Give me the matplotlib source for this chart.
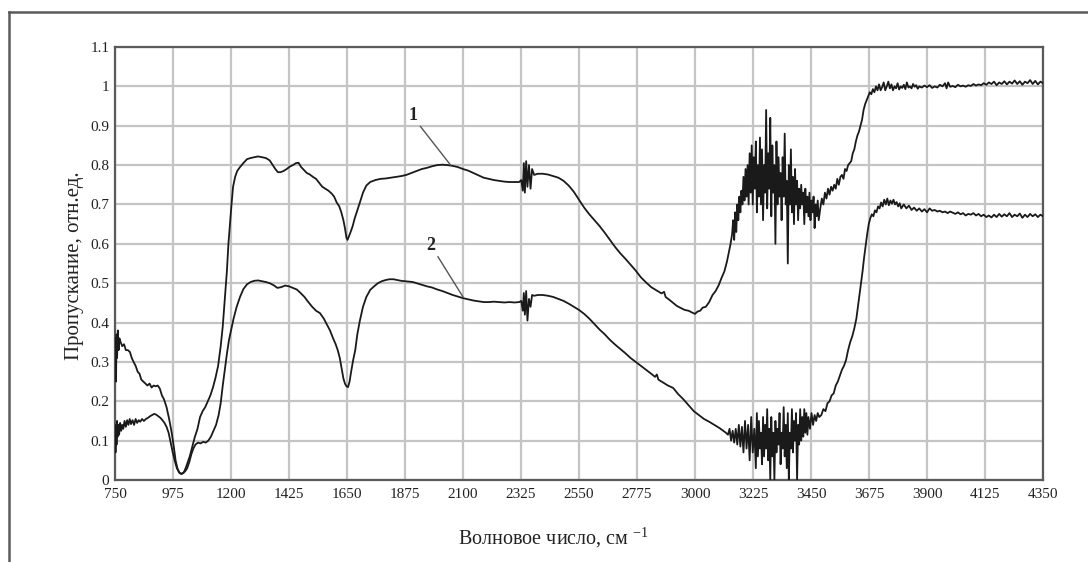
import matplotlib
matplotlib.use("Agg")
import matplotlib.pyplot as plt
from matplotlib.lines import Line2D

plt.rcParams['font.family'] = ['Liberation Serif', 'DejaVu Serif']
plt.rcParams['mathtext.default'] = 'regular'

# ---------------- data ----------------
wn1 = [750, 752, 754, 756, 758, 761, 764, 767, 772, 778, 785, 792, 800, 808, 815, 822, 830, 838, 845, 852,
       860, 868, 876, 884, 892, 900, 908, 916, 924, 932, 940, 950, 960, 970, 978, 985, 992, 1000, 1008, 1016,
       1024, 1032, 1040, 1050, 1060, 1070, 1080, 1090, 1100, 1110, 1120, 1130, 1140, 1150, 1160, 1168, 1176,
       1184, 1190, 1196, 1202, 1208, 1216, 1224, 1235, 1248, 1262, 1276, 1290, 1305, 1320, 1335, 1350, 1362,
       1372, 1382, 1392, 1404, 1416, 1428, 1440, 1452, 1462, 1472, 1482, 1494, 1506, 1518, 1530, 1542, 1554,
       1566, 1578, 1590, 1600, 1610, 1620, 1628, 1636, 1642, 1648, 1652, 1658, 1664, 1672, 1680, 1690, 1700,
       1712, 1725, 1740, 1760, 1780, 1800, 1820, 1840, 1860, 1880, 1900, 1920, 1940, 1960, 1980, 2000, 2020,
       2040, 2060, 2080, 2100, 2120, 2140, 2160, 2180, 2200, 2220, 2240, 2260, 2280, 2300, 2318, 2326, 2332,
       2336, 2340, 2345, 2350, 2356, 2362, 2368, 2376, 2390, 2410, 2430, 2450, 2470, 2490, 2510, 2530, 2550,
       2570, 2590, 2610, 2630, 2650, 2670, 2690, 2710, 2730, 2750, 2770, 2790, 2810, 2830, 2850, 2870, 2880,
       2886, 2900, 2915, 2930, 2945, 2960, 2975, 2990, 3000, 3010, 3020, 3030, 3042, 3055, 3068, 3080, 3092,
       3104, 3114, 3124, 3132, 3138, 3144, 3148, 3152, 3156, 3160, 3164, 3168, 3172, 3176, 3180, 3184, 3188,
       3192, 3196, 3200, 3204, 3208, 3212, 3216, 3220, 3224, 3228, 3232, 3236, 3240, 3244, 3248, 3252, 3256,
       3260, 3264, 3268, 3272, 3276, 3280, 3284, 3288, 3292, 3296, 3300, 3304, 3308, 3312, 3316, 3320, 3324,
       3328, 3332, 3336, 3340, 3344, 3348, 3352, 3356, 3360, 3364, 3368, 3372, 3376, 3380, 3384, 3388, 3392,
       3396, 3400, 3404, 3408, 3412, 3416, 3420, 3424, 3428, 3432, 3436, 3440, 3444, 3448, 3452, 3456, 3460,
       3464, 3468, 3472, 3476, 3480, 3486, 3492, 3498, 3504, 3510, 3516, 3522, 3528, 3534, 3540, 3546, 3552,
       3558, 3564, 3570, 3576, 3582, 3588, 3594, 3600, 3606, 3612, 3618, 3624, 3630, 3636, 3642, 3648, 3654,
       3660, 3666, 3672, 3678, 3684, 3690, 3696, 3702, 3708, 3714, 3720, 3726, 3732, 3738, 3744, 3750, 3756,
       3762, 3768, 3774, 3780, 3786, 3792, 3798, 3804, 3810, 3816, 3822, 3828, 3834, 3840, 3846, 3852, 3858,
       3864, 3870, 3880, 3890, 3900, 3910, 3920, 3930, 3940, 3950, 3960, 3970, 3976, 3982, 3990, 4000, 4010,
       4020, 4030, 4040, 4050, 4060, 4070, 4080, 4090, 4100, 4110, 4120, 4130, 4140, 4150, 4160, 4170, 4180,
       4190, 4200, 4210, 4220, 4230, 4240, 4250, 4260, 4270, 4280, 4290, 4300, 4310, 4320, 4330, 4340, 4350]
t1 = [0.30, 0.36, 0.25, 0.37, 0.31, 0.38, 0.33, 0.36, 0.35, 0.34, 0.345, 0.33, 0.33, 0.325, 0.31, 0.30, 0.29,
      0.275, 0.27, 0.255, 0.25, 0.245, 0.24, 0.245, 0.235, 0.24, 0.238, 0.24, 0.232, 0.215, 0.205, 0.185, 0.155,
      0.12, 0.085, 0.05, 0.03, 0.018, 0.015, 0.018, 0.03, 0.045, 0.06, 0.085, 0.11, 0.13, 0.16, 0.175, 0.185, 0.2,
      0.215, 0.235, 0.26, 0.29, 0.34, 0.39, 0.46, 0.53, 0.6, 0.65, 0.7, 0.745, 0.77, 0.785, 0.795, 0.805, 0.815,
      0.818, 0.82, 0.822, 0.82, 0.818, 0.812, 0.8, 0.79, 0.782, 0.782, 0.785, 0.79, 0.796, 0.8, 0.805, 0.806,
      0.795, 0.788, 0.78, 0.776, 0.77, 0.765, 0.755, 0.745, 0.74, 0.735, 0.728, 0.72, 0.705, 0.695, 0.68, 0.66,
      0.64, 0.615, 0.61, 0.62, 0.63, 0.645, 0.665, 0.685, 0.705, 0.73, 0.748, 0.757, 0.762, 0.765, 0.766, 0.768,
      0.77, 0.772, 0.775, 0.78, 0.785, 0.79, 0.793, 0.797, 0.8, 0.801, 0.8, 0.798, 0.795, 0.79, 0.786, 0.78,
      0.774, 0.768, 0.765, 0.762, 0.76, 0.758, 0.757, 0.757, 0.757, 0.762, 0.735, 0.805, 0.73, 0.81, 0.745, 0.8,
      0.74, 0.79, 0.775, 0.778, 0.778, 0.776, 0.772, 0.768, 0.76, 0.748, 0.732, 0.712, 0.692, 0.675, 0.66,
      0.645, 0.628, 0.61, 0.592, 0.576, 0.562, 0.547, 0.532, 0.515, 0.502, 0.49, 0.482, 0.474, 0.478, 0.465,
      0.458, 0.45, 0.442, 0.437, 0.432, 0.43, 0.425, 0.422, 0.428, 0.43, 0.438, 0.44, 0.452, 0.47, 0.48, 0.495,
      0.515, 0.53, 0.555, 0.58, 0.6, 0.625, 0.66, 0.61, 0.68, 0.63, 0.7, 0.66, 0.72, 0.68, 0.735, 0.7, 0.77,
      0.71, 0.79, 0.72, 0.8, 0.7, 0.83, 0.73, 0.85, 0.7, 0.82, 0.74, 0.86, 0.68, 0.8, 0.72, 0.87, 0.7, 0.84,
      0.66, 0.8, 0.73, 0.94, 0.69, 0.83, 0.74, 0.92, 0.67, 0.85, 0.73, 0.8, 0.6, 0.86, 0.7, 0.82, 0.72, 0.78,
      0.66, 0.82, 0.72, 0.88, 0.7, 0.76, 0.55, 0.8, 0.7, 0.84, 0.68, 0.77, 0.65, 0.79, 0.7, 0.76, 0.66, 0.74,
      0.69, 0.75, 0.7, 0.73, 0.65, 0.74, 0.68, 0.72, 0.67, 0.73, 0.66, 0.71, 0.68, 0.72, 0.64, 0.7, 0.67, 0.71,
      0.66, 0.69, 0.715, 0.7, 0.73, 0.715, 0.74, 0.725, 0.745, 0.735, 0.75, 0.74, 0.765, 0.75, 0.77, 0.775,
      0.765, 0.79, 0.785, 0.8, 0.805, 0.81, 0.83, 0.84, 0.86, 0.875, 0.885, 0.9, 0.915, 0.94, 0.955, 0.965,
      0.975, 0.985, 0.98, 0.993, 0.985, 1.0, 0.99, 1.005, 0.99, 0.998, 1.01, 0.99, 1.0, 1.012, 0.995, 1.005,
      0.99, 1.0, 0.995, 1.008, 0.992, 1.0, 0.996, 1.004, 0.993, 1.01, 0.997, 1.0, 0.995, 1.006, 0.999, 1.003,
      0.994, 1.0, 0.997, 1.002, 0.998, 1.003, 0.996, 1.0, 0.997, 1.004, 1.0, 1.008, 0.995, 1.01, 0.999, 1.001,
      0.998, 1.004, 1.0, 1.002, 0.999, 1.003, 1.001, 1.006, 1.002, 1.005, 1.003, 1.008, 1.004, 1.01, 1.006,
      1.012, 1.003, 1.01, 1.006, 1.013, 1.005, 1.012, 1.007, 1.015, 1.006, 1.013, 1.004, 1.012, 1.008, 1.016,
      1.006, 1.014, 1.005, 1.012, 1.008]

wn2 = [750, 752, 754, 756, 758, 760, 763, 766, 770, 774, 778, 782, 787, 792, 797, 802, 807, 812, 818, 824,
       830, 836, 842, 848, 855, 862, 870, 878, 886, 894, 902, 910, 918, 926, 934, 942, 950, 958, 966, 974, 982,
       990, 998, 1006, 1014, 1022, 1030, 1038, 1046, 1054, 1062, 1072, 1082, 1092, 1102, 1112, 1122, 1132,
       1142, 1152, 1160, 1168, 1176, 1184, 1192, 1200, 1210, 1222, 1235, 1248, 1262, 1276, 1290, 1305, 1320,
       1335, 1350, 1365, 1380, 1395, 1410, 1425, 1440, 1455, 1470, 1485, 1500, 1515, 1530, 1545, 1560, 1572,
       1584, 1596, 1606, 1614, 1622, 1630, 1636, 1642, 1648, 1654, 1660, 1666, 1674, 1682, 1690, 1700, 1712,
       1725, 1740, 1755, 1770, 1785, 1800, 1815, 1830, 1845, 1860, 1875, 1890, 1905, 1920, 1940, 1960, 1980,
       2000, 2020, 2040, 2060, 2080, 2100, 2120, 2140, 2160, 2180, 2200, 2220, 2240, 2260, 2280, 2300, 2318,
       2326, 2332, 2336, 2340, 2345, 2350, 2356, 2362, 2368, 2376, 2390, 2410, 2430, 2450, 2470, 2490, 2510,
       2530, 2550, 2570, 2590, 2610, 2630, 2650, 2670, 2690, 2710, 2730, 2750, 2770, 2790, 2810, 2830, 2845,
       2852, 2858, 2875, 2895, 2915, 2935, 2955, 2975, 2995, 3015, 3035, 3055, 3075, 3095, 3110, 3120, 3128,
       3134, 3140, 3146, 3152, 3158, 3164, 3170, 3176, 3182, 3188, 3194, 3200, 3206, 3212, 3218, 3224, 3230,
       3236, 3240, 3244, 3248, 3252, 3256, 3260, 3264, 3268, 3272, 3276, 3280, 3284, 3288, 3292, 3296, 3300,
       3304, 3308, 3312, 3316, 3320, 3324, 3328, 3332, 3336, 3340, 3344, 3348, 3352, 3356, 3360, 3364, 3368,
       3372, 3376, 3380, 3384, 3388, 3392, 3396, 3400, 3404, 3408, 3412, 3416, 3420, 3424, 3428, 3432, 3436,
       3440, 3446, 3452, 3458, 3464, 3470, 3476, 3482, 3490, 3498, 3506, 3514, 3522, 3530, 3538, 3546, 3554,
       3562, 3570, 3578, 3586, 3594, 3602, 3610, 3618, 3626, 3632, 3638, 3644, 3650, 3656, 3662, 3668, 3674,
       3680, 3686, 3692, 3698, 3704, 3710, 3716, 3722, 3728, 3734, 3740, 3746, 3752, 3758, 3764, 3770, 3776,
       3782, 3788, 3794, 3800, 3810, 3820, 3830, 3840, 3850, 3860, 3870, 3880, 3890, 3900, 3910, 3920, 3930,
       3940, 3950, 3960, 3970, 3980, 3990, 4000, 4010, 4020, 4030, 4040, 4050, 4060, 4070, 4080, 4090, 4100,
       4110, 4120, 4130, 4140, 4150, 4160, 4170, 4180, 4190, 4200, 4210, 4220, 4230, 4240, 4250, 4260, 4270,
       4280, 4290, 4300, 4310, 4320, 4330, 4340, 4350]
t2 = [0.13, 0.07, 0.14, 0.09, 0.15, 0.11, 0.14, 0.115, 0.145, 0.125, 0.14, 0.13, 0.15, 0.135, 0.152, 0.14,
      0.155, 0.142, 0.152, 0.14, 0.155, 0.145, 0.152, 0.148, 0.155, 0.15, 0.155, 0.158, 0.162, 0.165, 0.168,
      0.166, 0.162, 0.158, 0.152, 0.145, 0.135, 0.12, 0.095, 0.07, 0.048, 0.03, 0.02, 0.016, 0.018, 0.022, 0.03,
      0.045, 0.065, 0.08, 0.09, 0.095, 0.093, 0.097, 0.095, 0.1, 0.11, 0.125, 0.14, 0.165, 0.195, 0.24, 0.28,
      0.32, 0.355, 0.38, 0.41, 0.44, 0.465, 0.485, 0.497, 0.503, 0.506, 0.507, 0.505, 0.503, 0.5, 0.495, 0.488,
      0.49, 0.494, 0.492, 0.488, 0.484, 0.475, 0.465, 0.452, 0.44, 0.43, 0.424, 0.41, 0.395, 0.38, 0.36, 0.345,
      0.33, 0.31, 0.28, 0.258, 0.245, 0.238, 0.236, 0.25, 0.275, 0.305, 0.33, 0.37, 0.405, 0.44, 0.465, 0.483,
      0.492, 0.5, 0.505, 0.508, 0.51, 0.51, 0.508, 0.506, 0.505, 0.504, 0.503, 0.5, 0.496, 0.492, 0.489, 0.484,
      0.48, 0.475, 0.47, 0.466, 0.462, 0.459, 0.456, 0.454, 0.452, 0.452, 0.453, 0.452, 0.451, 0.452, 0.451,
      0.452, 0.455, 0.43, 0.475, 0.42, 0.48, 0.405, 0.46, 0.44, 0.47, 0.468, 0.47, 0.47, 0.468, 0.465, 0.46,
      0.455, 0.448, 0.44, 0.432, 0.422, 0.41, 0.396, 0.382, 0.37, 0.356, 0.344, 0.333, 0.322, 0.31, 0.3, 0.29,
      0.28, 0.27, 0.262, 0.268, 0.255, 0.248, 0.24, 0.234, 0.218, 0.205, 0.19, 0.175, 0.165, 0.155, 0.148, 0.14,
      0.132, 0.125, 0.12, 0.115, 0.13, 0.1, 0.125, 0.095, 0.13, 0.09, 0.14, 0.085, 0.135, 0.07, 0.15, 0.08,
      0.14, 0.05, 0.16, 0.07, 0.13, 0.03, 0.17, 0.06, 0.15, 0.08, 0.12, 0.04, 0.16, 0.06, 0.14, 0.08, 0.18,
      0.05, 0.13, 0.0, 0.16, 0.06, 0.12, 0.0, 0.15, 0.07, 0.13, 0.09, 0.17, 0.04, 0.12, 0.08, 0.185, 0.06, 0.14,
      0.03, 0.17, 0.0, 0.12, 0.08, 0.18, 0.07, 0.15, 0.1, 0.17, 0.0, 0.14, 0.09, 0.18, 0.1, 0.16, 0.11, 0.18,
      0.12, 0.17, 0.115, 0.16, 0.13, 0.17, 0.14, 0.165, 0.15, 0.17, 0.16, 0.165, 0.18, 0.175, 0.195, 0.2, 0.215,
      0.22, 0.24, 0.25, 0.265, 0.28, 0.29, 0.305, 0.33, 0.35, 0.365, 0.385, 0.41, 0.44, 0.47, 0.5, 0.53, 0.565,
      0.595, 0.625, 0.65, 0.665, 0.675, 0.67, 0.685, 0.68, 0.695, 0.69, 0.705, 0.695, 0.712, 0.7, 0.715, 0.698,
      0.71, 0.702, 0.712, 0.7, 0.706, 0.695, 0.703, 0.69, 0.7, 0.69, 0.697, 0.686, 0.692, 0.684, 0.69, 0.682,
      0.688, 0.68, 0.69, 0.684, 0.686, 0.682, 0.684, 0.68, 0.682, 0.678, 0.682, 0.679, 0.676, 0.68, 0.675,
      0.678, 0.672, 0.676, 0.674, 0.678, 0.672, 0.676, 0.67, 0.674, 0.668, 0.672, 0.667, 0.674, 0.668, 0.676,
      0.669, 0.675, 0.67, 0.678, 0.668, 0.674, 0.67, 0.677, 0.666, 0.674, 0.668, 0.676, 0.67, 0.675, 0.668,
      0.674, 0.67]

x_ticks = [750, 975, 1200, 1425, 1650, 1875, 2100, 2325, 2550, 2775, 3000, 3225, 3450, 3675, 3900, 4125, 4350]
y_ticks = [0, 0.1, 0.2, 0.3, 0.4, 0.5, 0.6, 0.7, 0.8, 0.9, 1.0, 1.1]
y_tick_labels = ['0', '0.1', '0.2', '0.3', '0.4', '0.5', '0.6', '0.7', '0.8', '0.9', '1', '1.1']
x_label = 'Волновое число, см $^{-1}$'
y_label = 'Пропускание, отн.ед.'
curve_labels = ['1', '2']
label_pos = [(1905, 0.925), (1975, 0.595)]
leader_start = [(1935, 0.898), (2003, 0.567)]
leader_end = [(2052, 0.80), (2100, 0.465)]

# ---------------- figure ----------------
W, H = 1088, 562
fig = plt.figure(figsize=(W / 100, H / 100), dpi=100)
ax = fig.add_axes([115 / W, 1 - 480 / H, (1043 - 115) / W, (480 - 47) / H])

ax.plot(wn1, t1, color='#1a1a1a', lw=1.3, zorder=3)
ax.plot(wn2, t2, color='#1a1a1a', lw=1.3, zorder=3)

ax.set_xlim(750, 4350)
ax.set_ylim(0, 1.1)
ax.set_xticks(x_ticks)
ax.set_xticklabels([str(v) for v in x_ticks])
ax.set_yticks(y_ticks)
ax.set_yticklabels(y_tick_labels)
ax.tick_params(length=0, labelsize=11, colors='#222222')
ax.tick_params(axis='x', pad=6)
ax.tick_params(axis='y', pad=4)
ax.grid(True, color='#c4c4c4', lw=1.6)
ax.set_axisbelow(True)
for s in ax.spines.values():
    s.set_color('#5a5a5a')
    s.set_linewidth(1.6)

ax.set_xlabel(x_label, fontsize=14.5, color='#222222')
ax.xaxis.set_label_coords((553 - 115) / (1043 - 115), -(538 - 480) / (480 - 47))
ax.set_ylabel(y_label, fontsize=15, color='#222222')
ax.yaxis.set_label_coords(-(115 - 75) / (1043 - 115), 0.5 + (263 - 265) / (480 - 47))
ax.xaxis.label.set_va('center')
ax.yaxis.label.set_va('center')

for lab, p, a, b in zip(curve_labels, label_pos, leader_start, leader_end):
    ax.text(p[0], p[1], lab, fontsize=13, ha='center', va='center', color='#222222', fontweight='bold')
    ax.plot([a[0], b[0]], [a[1], b[1]], color='#555555', lw=1.0, zorder=4)

# outer frame (top and left lines)
fig.add_artist(Line2D([9 / W, 1.0], [1 - 12 / H, 1 - 12 / H], transform=fig.transFigure,
                      color='#5a5a5a', lw=1.8))
fig.add_artist(Line2D([9 / W, 9 / W], [1 - 12 / H, 0], transform=fig.transFigure,
                      color='#5a5a5a', lw=1.8))

fig.savefig('out.png', dpi=100)
